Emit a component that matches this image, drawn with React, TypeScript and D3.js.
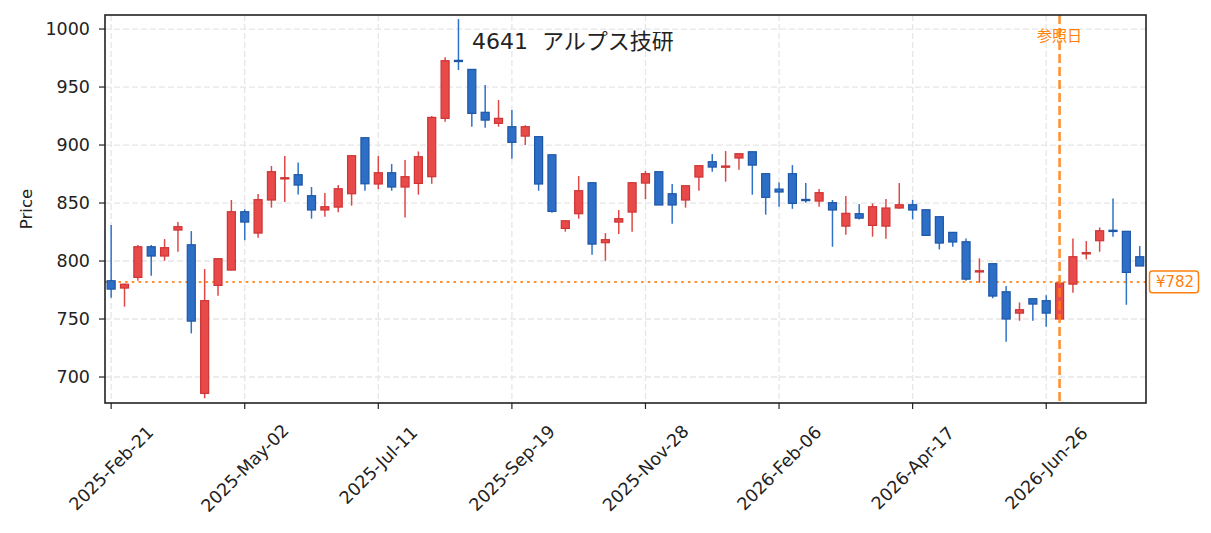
import React from "react";
import * as d3 from "d3";

const opens = [783, 776.7, 785.9, 812.3, 804.3, 826.7, 814, 685.9, 779, 792.2, 842.5, 824.1, 852.6, 871, 874.4, 856.3, 844, 846.5, 858, 906.3, 866.4, 876.1, 863.8, 866.9, 872.7, 923, 973, 965.2, 928.2, 918.7, 915.8, 907.7, 907.2, 891.6, 828.1, 840.8, 867.5, 815.8, 833.6, 842.2, 867.2, 877, 858, 852.6, 872.4, 885.6, 881.2, 888.8, 894.2, 875.3, 862, 875.3, 853.1, 851.7, 850.3, 830.1, 840.8, 830.7, 830.1, 845.7, 848.5, 844.2, 838.2, 824.7, 816.6, 791, 797.7, 773.5, 755.1, 767.5, 765.8, 750, 780.1, 806.5, 817.5, 826.5, 825.6, 803.7];
const highs = [831, 780.5, 813.8, 813.8, 818.9, 833.6, 825.8, 793.1, 802, 852.6, 844.5, 857.7, 881.9, 890.5, 885, 863.8, 858.6, 865.5, 890.8, 906.3, 890.5, 883.6, 887, 894.5, 925, 975.6, 1008.6, 965.2, 951.7, 938.8, 930.2, 917, 907.2, 891.6, 834.7, 873.3, 867.5, 824.1, 843.9, 867.5, 877.6, 877, 866.4, 864.9, 882.2, 892.2, 894.8, 892.5, 894.2, 875.3, 867.8, 882.7, 867.2, 862, 852.6, 856, 849.1, 849.7, 853.4, 867.2, 852.6, 844.2, 838.2, 824.7, 819.5, 802.3, 797.7, 778.4, 764.3, 767.5, 770.4, 781, 819.5, 817.2, 829, 854, 825.6, 812.9];
const lows = [768.4, 760.6, 783, 787.3, 800.3, 808, 737.6, 681.6, 770, 792, 818, 820, 846, 850.8, 857.4, 836.5, 838.2, 842, 847.7, 860.6, 862, 860.6, 837.6, 857.2, 866.6, 920.1, 964.6, 915.8, 914.9, 915.8, 888.2, 900, 860.6, 841.6, 825.3, 836.5, 805.4, 800.3, 823.3, 825.3, 853.4, 848.3, 832.2, 846, 860.6, 877, 868.4, 878.7, 857.2, 840, 846.8, 845, 850.3, 846.8, 812.3, 822.7, 835.9, 821, 819.2, 845, 835.9, 822, 810, 812.3, 783, 781.3, 767.8, 730.4, 748.5, 748.5, 743.4, 750, 772.7, 801.4, 808, 821, 762.3, 795.7];
const closes = [775.8, 780, 812.3, 804.3, 811.5, 829.6, 748.2, 765.8, 802, 842.5, 833.6, 852.9, 877, 871.8, 865.5, 844, 846.8, 862.3, 890.8, 866.6, 876.1, 863.8, 872.7, 889.9, 923.8, 972.7, 972, 927.3, 921.5, 923, 902.3, 915.8, 866.4, 842.8, 834.7, 860.6, 814.6, 818.4, 836.5, 867.5, 875.3, 848.3, 848.3, 864.9, 882.2, 881, 881.9, 892.5, 882.7, 854.9, 859.5, 849.7, 852.5, 858.9, 844, 841.1, 837, 846.8, 845.7, 848.5, 844, 822.1, 815.5, 816.4, 784.4, 791.6, 769.8, 750, 758, 762.9, 755.1, 781, 803.7, 807.2, 826.1, 826, 790.2, 795.7];

const xTickIndex = [0, 10, 20, 30, 40, 50, 60, 70];
const xTickLabels = ["2025-Feb-21", "2025-May-02", "2025-Jul-11", "2025-Sep-19", "2025-Nov-28", "2026-Feb-06", "2026-Apr-17", "2026-Jun-26"];
const yTicks = [700, 750, 800, 850, 900, 950, 1000];
const refIndex = 71;
const refPrice = 782;
const title = "4641  アルプス技研";
const refLabel = "参照日";

const W = 1211;
const H = 533;
const M = { left: 105, right: 1146, top: 15, bottom: 403 };
const FONT = "'DejaVu Sans', 'Noto Sans CJK JP', sans-serif";

const UP_FILL = "#e84a4a";
const UP_STROKE = "#cf3434";
const DN_FILL = "#2d6fc6";
const DN_STROKE = "#1e56a6";
const ORANGE = "#ff7f0e";

export default function App() {
  const n = opens.length;
  const x = d3.scaleLinear().domain([-0.46, n - 1 + 0.47]).range([M.left, M.right]);
  const y = d3.scaleLinear().domain([677.6, 1012.1]).range([M.bottom, M.top]);
  const bw = (x(1) - x(0)) * 0.6;

  return (
    <svg width={W} height={H} style={{ position: "absolute", left: 0, top: 0, background: "#fff" }} fontFamily={FONT}>
      <rect x={0} y={0} width={W} height={H} fill="#fff" />
      {/* grid */}
      {yTicks.map((t) => (
        <line key={"gy" + t} x1={M.left} x2={M.right} y1={y(t)} y2={y(t)} stroke="#e6e6e6" strokeWidth={1.3} strokeDasharray="6,3" />
      ))}
      {xTickIndex.map((t) => (
        <line key={"gx" + t} x1={x(t)} x2={x(t)} y1={M.top} y2={M.bottom} stroke="#e6e6e6" strokeWidth={1.3} strokeDasharray="6,3" />
      ))}
      {/* reference price line */}
      <line x1={M.left} x2={M.right} y1={y(refPrice)} y2={y(refPrice)} stroke={ORANGE} strokeWidth={2} strokeDasharray="2.6,4.1" opacity={0.85} />
      {/* candles */}
      {opens.map((o, i) => {
        const c = closes[i];
        const up = c >= o;
        const cx = x(i);
        const top = y(Math.max(o, c));
        const bot = y(Math.min(o, c));
        const h = Math.max(bot - top, 1.2);
        return (
          <g key={i}>
            <line x1={cx} x2={cx} y1={y(highs[i])} y2={y(lows[i])} stroke={up ? "#e04848" : "#2f72c8"} strokeWidth={1.5} />
            <rect x={cx - bw / 2} y={top} width={bw} height={h} fill={up ? UP_FILL : DN_FILL} stroke={up ? UP_STROKE : DN_STROKE} strokeWidth={1.2} />
          </g>
        );
      })}
      {/* reference date line */}
      <line x1={x(refIndex)} x2={x(refIndex)} y1={M.top} y2={M.bottom} stroke={ORANGE} strokeWidth={2.6} strokeDasharray="9,4" opacity={0.85} />
      <text x={x(refIndex)} y={41} textAnchor="middle" fontSize={15} fill={ORANGE}>{refLabel}</text>
      {/* frame */}
      <rect x={M.left} y={M.top} width={M.right - M.left} height={M.bottom - M.top} fill="none" stroke="#222" strokeWidth={1.6} />
      {/* y axis */}
      {yTicks.map((t) => (
        <g key={"yt" + t}>
          <line x1={M.left - 6} x2={M.left} y1={y(t)} y2={y(t)} stroke="#222" strokeWidth={1.2} />
          <text x={M.left - 15} y={y(t)} dy="0.36em" textAnchor="end" fontSize={17.5} fill="#222">{t}</text>
        </g>
      ))}
      <text transform={`translate(32,${(M.top + M.bottom) / 2}) rotate(-90)`} textAnchor="middle" fontSize={16.5} fill="#222">Price</text>
      {/* x axis */}
      {xTickIndex.map((t, k) => (
        <g key={"xt" + t}>
          <line x1={x(t)} x2={x(t)} y1={M.bottom} y2={M.bottom + 6} stroke="#222" strokeWidth={1.2} />
          <text transform={`translate(${x(t)},${k === 2 ? 465 : 468}) rotate(-45)`} textAnchor="middle" dy="0.36em" fontSize={17.5} fill="#222">{xTickLabels[k]}</text>
        </g>
      ))}
      {/* title */}
      <text x={472} y={49} fontSize={22} fill="#222" style={{ whiteSpace: "pre" }}>{title}</text>
      {/* price label */}
      <rect x={1149.5} y={y(refPrice) - 10.8} width={49} height={21.6} rx={3} fill="#fff" stroke={ORANGE} strokeWidth={1.5} />
      <text x={1175} y={y(refPrice)} dy="0.36em" textAnchor="middle" fontSize={15} fill={ORANGE}>¥{refPrice}</text>
    </svg>
  );
}
